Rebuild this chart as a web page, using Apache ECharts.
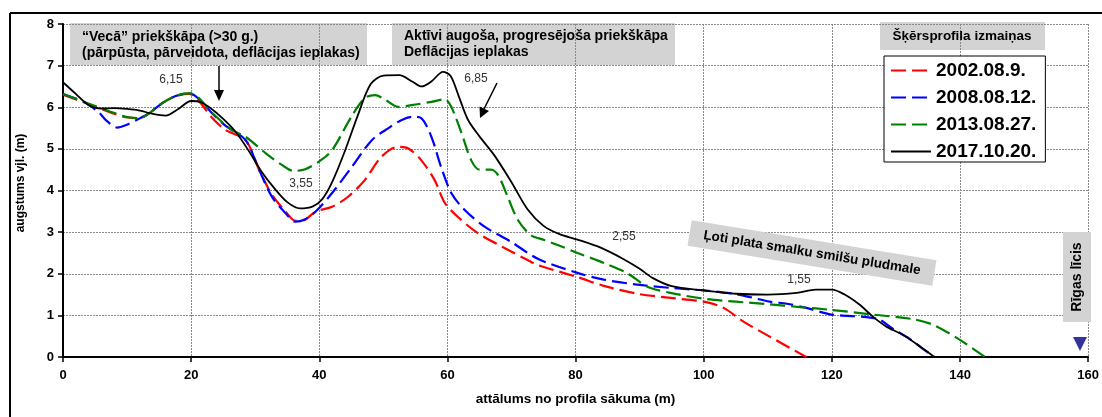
<!DOCTYPE html>
<html>
<head>
<meta charset="utf-8">
<script src="https://cdn.jsdelivr.net/npm/echarts@6/dist/echarts.min.js"></script>
<style>html,body{margin:0;padding:0;background:#fff;}#c{width:1102px;height:417px;}</style>
</head>
<body>
<div id="c"></div>
<script>
const seriesNames = ['2002.08.9.', '2008.08.12.', '2013.08.27.', '2017.10.20.'];
const xTicks = [0, 20, 40, 60, 80, 100, 120, 140, 160];
const yTicks = [0, 1, 2, 3, 4, 5, 6, 7, 8];

const redX = [0,3.6,7.3,9.8,12,13.5,15.5,17.6,19.7,21.2,23.3,25.4,28.5,30.6,32.6,34.7,36.3,37.8,39.4,42,44.5,47.1,49.7,52.3,53.9,55.9,58,59.6,61.6,64.7,68.9,72.5,74.1,80.3,84.4,89.6,94.8,100,103.1,106.2,110.3,116];
const redY = [6.3,6.1,5.88,5.76,5.74,5.86,6.1,6.27,6.32,6.15,5.74,5.45,5.21,4.5,3.9,3.5,3.27,3.3,3.49,3.61,3.85,4.25,4.81,5.05,5.01,4.73,4.25,3.7,3.37,2.98,2.62,2.33,2.21,1.92,1.71,1.52,1.42,1.33,1.18,0.85,0.49,0];

const blueX = [0,3.6,5.7,6.7,8.5,9.8,11.7,13.5,15.5,17.6,19.7,21.2,23.3,25.4,28.5,30.6,32.6,34.7,36.3,37.8,39.4,42,45.1,48.2,50.8,52.8,54.6,55.9,57.5,59,60.6,62.7,65.8,69.9,74.1,80.3,84.4,89.6,94.8,100,105.1,110.3,113,116,119.9,125.4,127.4,129.5,132,134,136];
const blueY = [6.32,6.1,5.86,5.69,5.51,5.57,5.71,5.86,6.1,6.27,6.34,6.2,5.85,5.55,5.21,4.5,3.85,3.46,3.25,3.31,3.49,3.94,4.57,5.21,5.5,5.69,5.77,5.74,5.29,4.57,3.94,3.53,3.13,2.77,2.36,2.02,1.86,1.74,1.66,1.6,1.51,1.33,1.28,1.18,1.02,0.96,0.9,0.68,0.45,0.22,0];

const greenX = [0,3.6,7.3,9.8,12,13.5,15.5,17.6,19.7,21.2,23.3,26.4,28.5,31.6,34.2,36,37.8,40,42,45,47.1,48.7,50.2,52.3,54.4,57.5,59.6,60.6,62.2,63.7,65,66.8,67.9,69.4,71,73,75.1,77.2,80.3,84.4,88,91.2,94.8,100,105,110,115,120,126.4,132.6,135.7,139.8,143.9];
const greenY = [6.32,6.11,5.9,5.77,5.74,5.86,6.1,6.27,6.34,6.22,5.86,5.45,5.29,4.9,4.61,4.47,4.51,4.7,4.97,5.77,6.22,6.29,6.19,6.01,6.05,6.13,6.19,6.01,5.38,4.73,4.5,4.5,4.37,3.85,3.29,2.93,2.81,2.69,2.5,2.26,2.02,1.69,1.54,1.4,1.33,1.27,1.2,1.13,1.02,0.91,0.78,0.43,0];

const blackX = [0,2,4,6,8,10,12,14,16,18,20,21.5,23,25,27,29,31,33,35,37,39,40.5,42,44,46,48,50,52.5,54.5,56,57.5,59.3,60.5,61.8,63.2,65,67.3,70,72.5,75,77.5,80.3,84,87.5,90,92,95,100,105,110,114.5,117.5,120,122,124.3,126.4,128.5,131,133.6,136];
const blackY = [6.6,6.32,6.05,5.97,5.98,5.96,5.92,5.84,5.8,5.96,6.15,6.12,5.98,5.72,5.4,4.95,4.45,4.05,3.72,3.57,3.62,3.8,4.2,4.95,5.8,6.55,6.76,6.77,6.62,6.5,6.62,6.85,6.75,6.25,5.7,5.3,4.85,4.2,3.55,3.15,2.95,2.82,2.62,2.35,2.12,1.9,1.7,1.6,1.52,1.5,1.54,1.62,1.62,1.5,1.26,0.97,0.73,0.54,0.27,0];

const FONT = "'Liberation Sans', Arial, sans-serif";
function pairs(xs, ys) { return xs.map((x, i) => [x, ys[i]]); }

const colors = ['#ff0000', '#0000ff', '#008000', '#000000'];
const dataSets = [pairs(redX, redY), pairs(blueX, blueY), pairs(greenX, greenY), pairs(blackX, blackY)];

const series = dataSets.map((d, i) => ({
  name: seriesNames[i],
  type: 'line',
  data: d,
  smooth: 0.3,
  symbol: 'none',
  lineStyle: {
    color: colors[i],
    width: i === 3 ? 1.8 : 2.2,
    type: i === 3 ? 'solid' : [15, 6]
  },
  itemStyle: { color: colors[i] },
  z: 3 + i
}));

const gridLine = { show: true, lineStyle: { color: '#8a8a8a', width: 1, type: [2, 1] } };
const boxFill = '#d3d3d3';

const chart = echarts.init(document.getElementById('c'), null, { renderer: 'canvas' });
chart.setOption({
  animation: false,
  backgroundColor: '#fff',
  textStyle: { fontFamily: FONT },
  grid: { left: 63, right: 9, top: 24, bottom: 60, containLabel: false },
  xAxis: {
    type: 'value', min: xTicks[0], max: xTicks[xTicks.length - 1], interval: 20,
    name: 'attālums no profila sākuma (m)', nameLocation: 'middle', nameGap: 35,
    nameTextStyle: { fontFamily: FONT, fontWeight: 'bold', fontSize: 13.5, color: '#000' },
    axisLine: { lineStyle: { color: '#000', width: 2 } },
    axisTick: { show: true, inside: false, length: 5, lineStyle: { color: '#000', width: 1.5 } },
    axisLabel: { color: '#000', fontWeight: 'bold', fontSize: 13, fontFamily: FONT, margin: 12 },
    splitLine: gridLine
  },
  yAxis: {
    type: 'value', min: yTicks[0], max: yTicks[yTicks.length - 1], interval: 1,
    axisLine: { show: true, lineStyle: { color: '#000', width: 2 } },
    axisTick: { show: true, inside: false, length: 5, lineStyle: { color: '#000', width: 1.5 } },
    axisLabel: { color: '#000', fontWeight: 'bold', fontSize: 13, fontFamily: FONT, margin: 9 },
    splitLine: gridLine
  },
  legend: {
    data: seriesNames,
    orient: 'vertical',
    left: 884, top: 56,
    padding: [5, 9, 1, 6],
    itemGap: 8,
    itemWidth: 40, itemHeight: 14,
    itemStyle: { opacity: 0 },
    backgroundColor: '#fff',
    borderColor: '#000', borderWidth: 1,
    textStyle: { fontFamily: FONT, fontWeight: 'bold', fontSize: 19, color: '#000' },
    z: 20
  },
  graphic: [
    { type: 'line', shape: { x1: 10, y1: 13, x2: 1102, y2: 13 }, style: { stroke: '#000', lineWidth: 2 }, z: 30 },
    { type: 'line', shape: { x1: 10, y1: 13, x2: 10, y2: 417 }, style: { stroke: '#000', lineWidth: 2 }, z: 30 },

    { type: 'text', x: 21, y: 183, rotation: Math.PI / 2, z: 30, style: { text: 'augstums vjl. (m)', font: 'bold 12px ' + FONT, fill: '#000', align: 'center', verticalAlign: 'middle' } },

    { type: 'rect', shape: { x: 70, y: 23, width: 297, height: 42 }, style: { fill: boxFill }, z: -1 },
    { type: 'text', x: 82, y: 29, z: 30, style: { text: '“Vecā” priekškāpa (>30 g.)\n(pārpūsta, pārveidota, deflācijas ieplakas)', font: 'bold 14px ' + FONT, lineHeight: 16, fill: '#000', verticalAlign: 'top' } },

    { type: 'rect', shape: { x: 392, y: 23, width: 283, height: 42 }, style: { fill: boxFill }, z: -1 },
    { type: 'text', x: 404, y: 28, z: 30, style: { text: 'Aktīvi augoša, progresējoša priekškāpa\nDeflācijas ieplakas', font: 'bold 14px ' + FONT, lineHeight: 16, fill: '#000', verticalAlign: 'top' } },

    { type: 'rect', shape: { x: 880, y: 22, width: 165, height: 28 }, style: { fill: boxFill }, z: -1 },
    { type: 'text', x: 962, y: 36, z: 30, style: { text: 'Šķērsprofila izmaiņas', font: 'bold 13.5px ' + FONT, fill: '#000', align: 'center', verticalAlign: 'middle' } },

    { type: 'group', x: 812, y: 253, rotation: -9.3 * Math.PI / 180, z: 25, children: [
      { type: 'rect', shape: { x: -124, y: -13, width: 248, height: 26 }, style: { fill: boxFill }, z: 25 },
      { type: 'text', x: 0, y: 0, z: 26, style: { text: 'Ļoti plata smalku smilšu pludmale', font: 'bold 13.5px ' + FONT, fill: '#000', align: 'center', verticalAlign: 'middle' } }
    ] },

    { type: 'group', x: 1077, y: 277, rotation: Math.PI / 2, z: 25, children: [
      { type: 'rect', shape: { x: -45, y: -14, width: 90, height: 28 }, style: { fill: boxFill }, z: 25 },
      { type: 'text', x: 0, y: 0, z: 26, style: { text: 'Rīgas līcis', font: 'bold 14px ' + FONT, fill: '#000', align: 'center', verticalAlign: 'middle' } }
    ] },
    { type: 'polygon', shape: { points: [[1073, 337], [1087, 337], [1080, 351]] }, style: { fill: '#333399' }, z: 25 },

    { type: 'line', shape: { x1: 219, y1: 66, x2: 219, y2: 92 }, style: { stroke: '#000', lineWidth: 1.5 }, z: 30 },
    { type: 'polygon', shape: { points: [[214, 90], [224, 90], [219, 101]] }, style: { fill: '#000' }, z: 30 },
    { type: 'line', shape: { x1: 497, y1: 83, x2: 484, y2: 109 }, style: { stroke: '#000', lineWidth: 1.5 }, z: 30 },
    { type: 'polygon', shape: { points: [[489, 111], [479.5, 106.5], [480, 118]] }, style: { fill: '#000' }, z: 30 },

    { type: 'text', x: 171, y: 80, z: 30, style: { text: '6,15', font: '12px ' + FONT, fill: '#333', align: 'center', verticalAlign: 'middle' } },
    { type: 'text', x: 301, y: 184, z: 30, style: { text: '3,55', font: '12px ' + FONT, fill: '#333', align: 'center', verticalAlign: 'middle' } },
    { type: 'text', x: 476, y: 79, z: 30, style: { text: '6,85', font: '12px ' + FONT, fill: '#333', align: 'center', verticalAlign: 'middle' } },
    { type: 'text', x: 624, y: 237, z: 30, style: { text: '2,55', font: '12px ' + FONT, fill: '#333', align: 'center', verticalAlign: 'middle' } },
    { type: 'text', x: 799, y: 280, z: 30, style: { text: '1,55', font: '12px ' + FONT, fill: '#333', align: 'center', verticalAlign: 'middle' } }
  ],
  series: series
});
</script>
</body>
</html>
